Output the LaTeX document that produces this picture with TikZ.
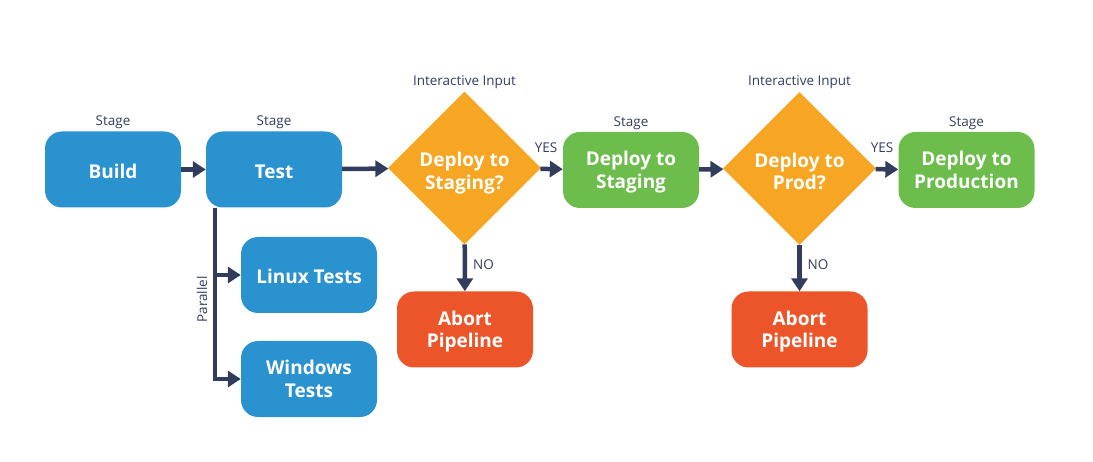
\documentclass[tikz,border=0pt]{standalone}
\usepackage{fontspec}
\setmainfont{Open Sans}
\usetikzlibrary{positioning,shapes.geometric,arrows.meta}
\definecolor{stageblue}{HTML}{2A92CE}
\definecolor{inputorange}{HTML}{F6A623}
\definecolor{deploygreen}{HTML}{6CBD4B}
\definecolor{abortred}{HTML}{EC5529}
\definecolor{linenavy}{HTML}{323D5E}

\begin{document}
\begin{tikzpicture}[x=1pt,y=-1pt,
    box/.style={rectangle, rounded corners=17pt, minimum width=136pt, minimum height=76pt,
        inner sep=0pt, align=center, text=white, font=\fontsize{19}{22.5}\selectfont\bfseries,
        text depth=0pt, execute at begin node={\rule{0pt}{17.5pt}}},
    ask/.style={diamond, shape aspect=1, minimum width=153pt, minimum height=153pt,
        inner sep=0pt, align=center, text=white, fill=inputorange,
        font=\fontsize{19}{22.5}\selectfont\bfseries, text height=43pt, text depth=0pt},
    lbl/.style={text=linenavy, inner sep=0pt, font=\fontsize{13.5}{15}\selectfont},
    arr/.style={draw=linenavy, line width=4.5pt, -{Triangle[length=13pt,width=16pt]}}]
        \useasboundingbox (0,0) rectangle (1093,462);
        % Nodes
        \node (n1) at (113,169.5) [box, fill=stageblue] {Build};
        \node (n2) at (274,169.5) [box, fill=stageblue] {Test};
        \node (n3) at (464.5,168) [ask] {Deploy to\\Staging?};
        \node (n4) at (631,170) [box, fill=deploygreen] {Deploy to\\Staging};
        \node (n5) at (799.5,168.5) [ask] {Deploy to\\Prod?};
        \node (n6) at (966.5,170) [box, fill=deploygreen] {Deploy to\\Production};
        \node (n7) at (465,329.5) [box, fill=abortred] {Abort\\Pipeline};
        \node (n8) at (799.5,329.5) [box, fill=abortred] {Abort\\Pipeline};
        \node (n9) at (309,275) [box, fill=stageblue] {Linux Tests};
        \node (n10) at (309,379) [box, fill=stageblue] {Windows\\Tests};
        % Labels
        \foreach \i in {1,2,4,6} {
            \node [lbl, above=2pt of n\i] {Stage};
        }
        \node (l3) at (464.5,82.5) [lbl] {Interactive Input};
        \node (l5) at (799.5,82.5) [lbl] {Interactive Input};
        \node (y3) at (546,148) [lbl] {YES};
        \node (y5) at (882,148) [lbl] {YES};
        \node (o3) at (483.5,264.5) [lbl] {NO};
        \node (o5) at (818,264.5) [lbl] {NO};
        \node (par) at (202,299.5) [lbl, rotate=90] {Parallel};
        % Edges
        \foreach \a/\b in {n1/n2,n2/n3,n3/n4,n4/n5,n5/n6,n3/n7,n5/n8} {
            \draw[arr] (\a) -- (\b);
        }
        \coordinate (fork) at ([xshift=9pt]n2.south west);
        \draw[arr] (fork) |- (n9);
        \draw[arr] (fork) |- (n10);
    \end{tikzpicture}
\end{document}
